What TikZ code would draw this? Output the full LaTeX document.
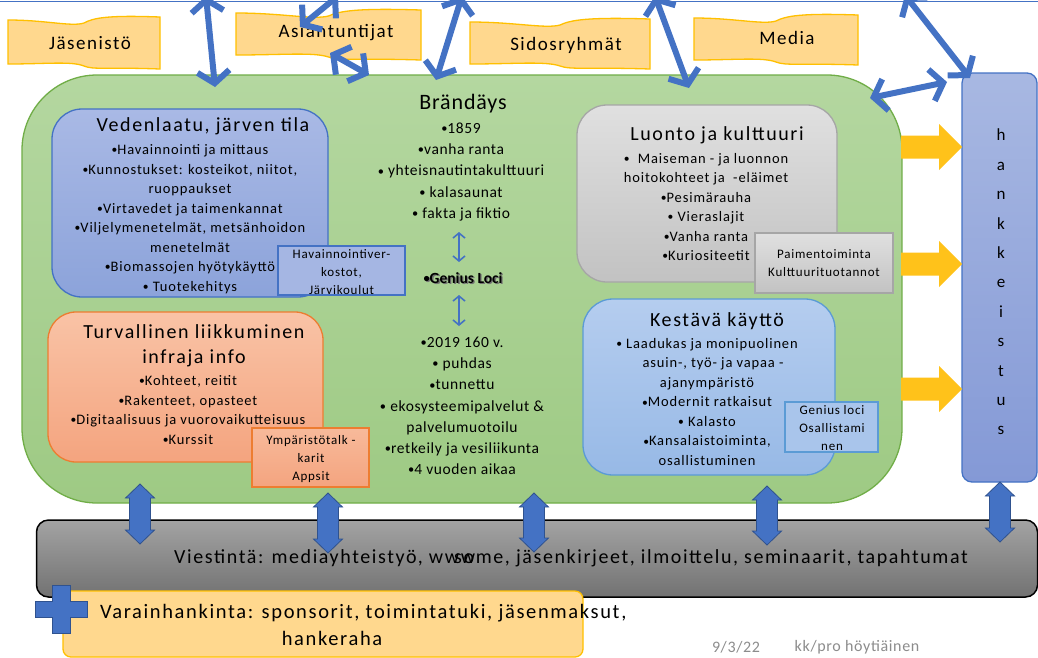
\documentclass[tikz,border=0pt]{standalone}
\usepackage{fontspec}
\setmainfont{Carlito}
\newfontfamily\spc[LetterSpace=8]{Carlito}
\newfontfamily\spb[LetterSpace=6]{Carlito}
\newfontfamily\spf[LetterSpace=4]{Carlito}
\usetikzlibrary{arrows.meta}
\definecolor{arrblue}{HTML}{4472C4}
\definecolor{arrdark}{HTML}{2F528F}
\definecolor{greenfill1}{HTML}{B4D7A0}
\definecolor{greenfill2}{HTML}{9ECA84}
\definecolor{greenline}{HTML}{70AD47}
\definecolor{bannerfill}{HTML}{FFD88E}
\definecolor{bannerline}{HTML}{FFC000}
\definecolor{vblue1}{HTML}{A9B9E5}
\definecolor{vblue2}{HTML}{8CA3DA}
\definecolor{oran1}{HTML}{F9C3A6}
\definecolor{oran2}{HTML}{F4A47F}
\definecolor{oranline}{HTML}{ED7D31}
\definecolor{gray1}{HTML}{E0E0E0}
\definecolor{gray2}{HTML}{C2C2C2}
\definecolor{grayline}{HTML}{A6A6A6}
\definecolor{lblue1}{HTML}{B5CDEF}
\definecolor{lblue2}{HTML}{97B9E6}
\definecolor{lblueline}{HTML}{5B9BD5}
\definecolor{hk1}{HTML}{A8B8E2}
\definecolor{hk2}{HTML}{8499D6}
\definecolor{bar1}{HTML}{A3A3A3}
\definecolor{bar2}{HTML}{727272}
\definecolor{foot}{HTML}{8C8C8C}
\definecolor{yel}{HTML}{FFC21A}

\newcommand{\bu}{\raisebox{0.8pt}{\scalebox{0.8}{•}}}

\newcommand{\bannerpath}[4]{%
  (#1,{#2+5}) .. controls ({#1+0.25*#3},{#2+5}) and ({#1+0.42*#3},{#2+12}) .. ({#1+0.5*#3},{#2+8})
  .. controls ({#1+0.56*#3},{#2+3}) and ({#1+0.65*#3},{#2}) .. ({#1+#3},{#2+2})
  -- ({#1+#3},{#2+#4+2})
  .. controls ({#1+0.65*#3},{#2+#4}) and ({#1+0.56*#3},{#2+#4+3}) .. ({#1+0.5*#3},{#2+#4-1})
  .. controls ({#1+0.42*#3},{#2+#4-6}) and ({#1+0.25*#3},{#2+#4-3}) .. (#1,{#2+#4-3}) -- cycle}

\newcommand{\vdarr}[3]{%
  \draw[blockarr] (#1,#2) -- ({#1+14.5},{#2+14}) -- ({#1+10.5},{#2+14}) -- ({#1+10.5},{#3-14})
  -- ({#1+14.5},{#3-14}) -- (#1,#3) -- ({#1-14.5},{#3-14}) -- ({#1-10.5},{#3-14})
  -- ({#1-10.5},{#2+14}) -- ({#1-14.5},{#2+14}) -- cycle;}

\newcommand{\hyarr}[3]{%
  \fill[yel] (#1,{#3-11.5}) -- ({#2-23},{#3-11.5}) -- ({#2-23},{#3-23}) -- (#2,#3)
  -- ({#2-23},{#3+23}) -- ({#2-23},{#3+11.5}) -- (#1,{#3+11.5}) -- cycle;}

\tikzset{
  banner/.style={draw=bannerline, line width=1.3pt, fill=bannerfill},
  bannertxt/.style={inner sep=0pt, font=\spc\fontsize{19}{22}\selectfont},
  bigarr/.style={draw=arrblue, line width=6pt,
     {Straight Barb[length=12pt,width=32pt]}-{Straight Barb[length=12pt,width=32pt]}},
  smallarr/.style={draw=arrblue, line width=1.6pt,
     {Straight Barb[length=5pt,width=12pt]}-{Straight Barb[length=5pt,width=12pt]}},
  blockarr/.style={fill=arrblue, draw=arrdark, line width=0.8pt},
  bigbox/.style={line width=1.3pt, inner sep=0pt},
  title/.style={inner sep=0pt, align=center, font=\spc\fontsize{20}{25}\selectfont},
  bul/.style={inner sep=0pt, align=center, font=\spb\fontsize{14.5}{19.5}\selectfont},
  cbul/.style={inner sep=0pt, align=center, font=\spf\fontsize{15.5}{21.2}\selectfont},
  smalltxt/.style={inner sep=0pt, align=center, font=\spb\fontsize{13}{18}\selectfont},
  foottxt/.style={inner sep=0pt, text=foot, font=\spf\fontsize{16}{18}\selectfont},
}

\begin{document}
\begin{tikzpicture}[x=1pt,y=-1pt]
\clip (0,0) rectangle (1038,657);
\useasboundingbox (0,0) rectangle (1038,657);
\fill[white] (0,0) rectangle (1038,657);

% top line
\coordinate (tl1) at (0,1.5);
\coordinate (tl2) at (1038,1.5);
\draw[arrblue, line width=1.5pt] (tl1) -- (tl2);

% banners
\draw[banner] \bannerpath{8}{15}{152}{52};
\node[bannertxt] (jas) at (90,43) {Jäsenistö};
\draw[banner] \bannerpath{236}{8}{185}{50};
\node[bannertxt] (asi) at (336,33) {Asiantuntijat};
\draw[banner] \bannerpath{470}{17}{180}{50};
\node[bannertxt] (sid) at (566,45) {Sidosryhmät};
\draw[banner] \bannerpath{694}{13}{164}{50};
\node[bannertxt] (med) at (787,38) {Media};

% main green box
\node[bigbox, draw=greenline, top color=greenfill1, bottom color=greenfill2,
  rounded corners=75pt, minimum width=880pt, minimum height=428pt] (main) at (462,289) {};

% hankkeistus
\node[bigbox, draw=arrblue, top color=hk1, bottom color=hk2,
  rounded corners=10pt, minimum width=75pt, minimum height=409pt] (hank) at (999.5,277.5) {};
\node[inner sep=0pt, align=center, font=\fontsize{17}{29.4}\selectfont] (hanktxt) at (1001,282)
  {h\\a\\n\\k\\k\\e\\i\\s\\t\\u\\s};

% yellow arrows
\hyarr{901}{962}{147}
\hyarr{901}{962}{264}
\hyarr{901}{962}{389}

% Vedenlaatu
\node[bigbox, draw=arrblue, top color=vblue1, bottom color=vblue2,
  rounded corners=30pt, minimum width=276pt, minimum height=188pt] (ved) at (190,203) {};
\node[title] (vedt) at (203,126) {Vedenlaatu, järven tila};
\node[bul] (vedb) at (190,219) {\bu Havainnointi ja mittaus\\\bu Kunnostukset: kosteikot, niitot,\\ruoppaukset\\\bu Virtavedet ja taimenkannat\\\bu Viljelymenetelmät, metsänhoidon\\menetelmät\\\bu Biomassojen hyötykäyttö\\\bu\ Tuotekehitys};
\node[bigbox, draw=arrblue, fill=vblue1!85!vblue2, minimum width=127pt, minimum height=49pt] (havb) at (341.5,270.5) {};
\node[smalltxt] (havt) at (341.5,272) {Havainnointiver-\\kostot,\\Järvikoulut};

% Turvallinen
\node[bigbox, draw=oranline, top color=oran1, bottom color=oran2,
  rounded corners=28pt, minimum width=275pt, minimum height=150pt] (tur) at (185.5,387) {};
\node[title] (turt) at (194,346) {Turvallinen liikkuminen\\infraja info};
\node[bul] (turb) at (188,410) {\bu Kohteet, reitit\\\bu Rakenteet, opasteet\\\bu Digitaalisuus ja vuorovaikutteisuus\\\bu Kurssit};
\node[bigbox, draw=oranline, top color=oran1!70!oran2, bottom color=oran2, minimum width=117pt, minimum height=59pt] (ympb) at (310.5,457.5) {};
\node[smalltxt] (ympt) at (311,459) {Ympäristötalk -\\karit\\Appsit};

% Luonto
\node[bigbox, draw=grayline, top color=gray1, bottom color=gray2,
  rounded corners=30pt, minimum width=260pt, minimum height=177pt] (luo) at (707,193.5) {};
\node[title] (luot) at (717,135) {Luonto ja kulttuuri};
\node[bul] (luob) at (706,207) {\bu\ \ Maiseman - ja luonnon\\hoitokohteet ja \ -eläimet\\\bu Pesimärauha\\\bu\ Vieraslajit\\\bu Vanha ranta\\\bu Kuriositeetit\hspace{18pt}};
\node[bigbox, draw=grayline, top color=gray1, bottom color=gray2, minimum width=138pt, minimum height=60pt] (paib) at (824,263) {};
\node[smalltxt] (pait) at (824,263) {Paimentoiminta\\Kulttuurituotannot};

% Kestava
\node[bigbox, draw=lblueline, top color=lblue1, bottom color=lblue2,
  rounded corners=30pt, minimum width=252pt, minimum height=176pt] (kes) at (709,387) {};
\node[title] (kest) at (717,321) {Kestävä käyttö};
\node[bul] (kesb) at (707,402) {\bu\ Laadukas ja monipuolinen\\\hspace{12pt}asuin-, työ- ja vapaa -\\ajanympäristö\\\bu Modernit ratkaisut\\\bu\ Kalasto\\\bu Kansalaistoiminta,\\osallistuminen};
\node[bigbox, draw=lblueline, fill=lblue1!60!lblue2, minimum width=93pt, minimum height=50pt] (genb) at (831.5,427) {};
\node[smalltxt] (gent) at (832,428) {Genius loci\\Osallistami\\nen};

% centre column
\node[inner sep=0pt, font=\spf\fontsize{22}{26}\selectfont] (bra) at (463,104) {Brändäys};
\node[cbul] (brab) at (461,172) {\bu 1859\\\bu vanha ranta\\\bu\ yhteisnautintakulttuuri\\\bu\ kalasaunat\\\bu\ fakta ja fiktio};
\coordinate (sa1) at (459,232);
\coordinate (sa2) at (459,262);
\draw[smallarr] (sa1) -- (sa2);
\node[inner sep=0pt, text=black!55, font=\bfseries\fontsize{15.5}{18}\selectfont] (glsh) at (464.3,279.3) {\bu Genius Loci};
\node[inner sep=0pt, font=\bfseries\fontsize{15.5}{18}\selectfont] (gl) at (463,278) {\bu Genius Loci};
\coordinate (sb1) at (459,295);
\coordinate (sb2) at (459,326);
\draw[smallarr] (sb1) -- (sb2);
\node[cbul] (genb2) at (462,406) {\bu 2019 160 v.\\\bu\ puhdas\\\bu tunnettu\\\bu\ ekosysteemipalvelut \&\\palvelumuotoilu\\\bu retkeily ja vesiliikunta\\\bu 4 vuoden aikaa};

% big blue connectors
\coordinate (c1a) at (206,-4);  \coordinate (c1b) at (215,87);
\coordinate (c2a) at (338,-4);  \coordinate (c2b) at (300,27);
\coordinate (c3a) at (330,53);  \coordinate (c3b) at (369,75);
\coordinate (c4a) at (462,-4);  \coordinate (c4b) at (436,80);
\coordinate (c5a) at (655,-4);  \coordinate (c5b) at (689,88);
\coordinate (c6a) at (905,-5);  \coordinate (c6b) at (970,78);
\coordinate (c7a) at (870,98);  \coordinate (c7b) at (947,82);
\draw[bigarr] (c1a) -- (c1b);
\draw[bigarr] (c2a) -- (c2b);
\draw[bigarr] (c3a) -- (c3b);
\draw[bigarr] (c4a) -- (c4b);
\draw[bigarr] (c5a) -- (c5b);
\draw[bigarr] (c6a) -- (c6b);
\draw[bigarr] (c7a) -- (c7b);

% Viestinta bar
\node[bigbox, draw=black, line width=1.5pt, top color=bar1, bottom color=bar2,
  rounded corners=12pt, minimum width=1001pt, minimum height=77pt] (vie) at (537,558.5) {};
\node[inner sep=0pt, font=\spc\fontsize{20}{22}\selectfont] (viet) at (571,558)
  {Viestintä: mediayhteistyö, www\kern-21pt some, jäsenkirjeet, ilmoittelu, seminaarit, tapahtumat};

% vertical block arrows
\vdarr{140}{484}{544}
\vdarr{328}{493}{553}
\vdarr{534}{493}{552}
\vdarr{767}{486}{545}
\vdarr{1000}{482}{542}

% Varainhankinta
\node[bigbox, draw=bannerline, fill=bannerfill, rounded corners=8pt,
  minimum width=520pt, minimum height=66pt] (var) at (323,624) {};
\node[inner sep=0pt, anchor=west, font=\spc\fontsize{20.5}{22}\selectfont] (vart1) at (100,613)
  {Varainhankinta: sponsorit, toimintatuki, jäsenmaksut,};
\node[inner sep=0pt, font=\spc\fontsize{20.5}{22}\selectfont] (vart2) at (332,638) {hankeraha};

% plus sign
\draw[blockarr] (52,585) -- (70,585) -- (70,601) -- (87,601) -- (87,617) -- (70,617)
  -- (70,633) -- (52,633) -- (52,617) -- (35,617) -- (35,601) -- (52,601) -- cycle;

% footer
\node[foottxt] (date) at (736,647) {9/3/22};
\node[foottxt] (auth) at (857,647) {kk/pro höytiäinen};
\end{tikzpicture}
\end{document}
